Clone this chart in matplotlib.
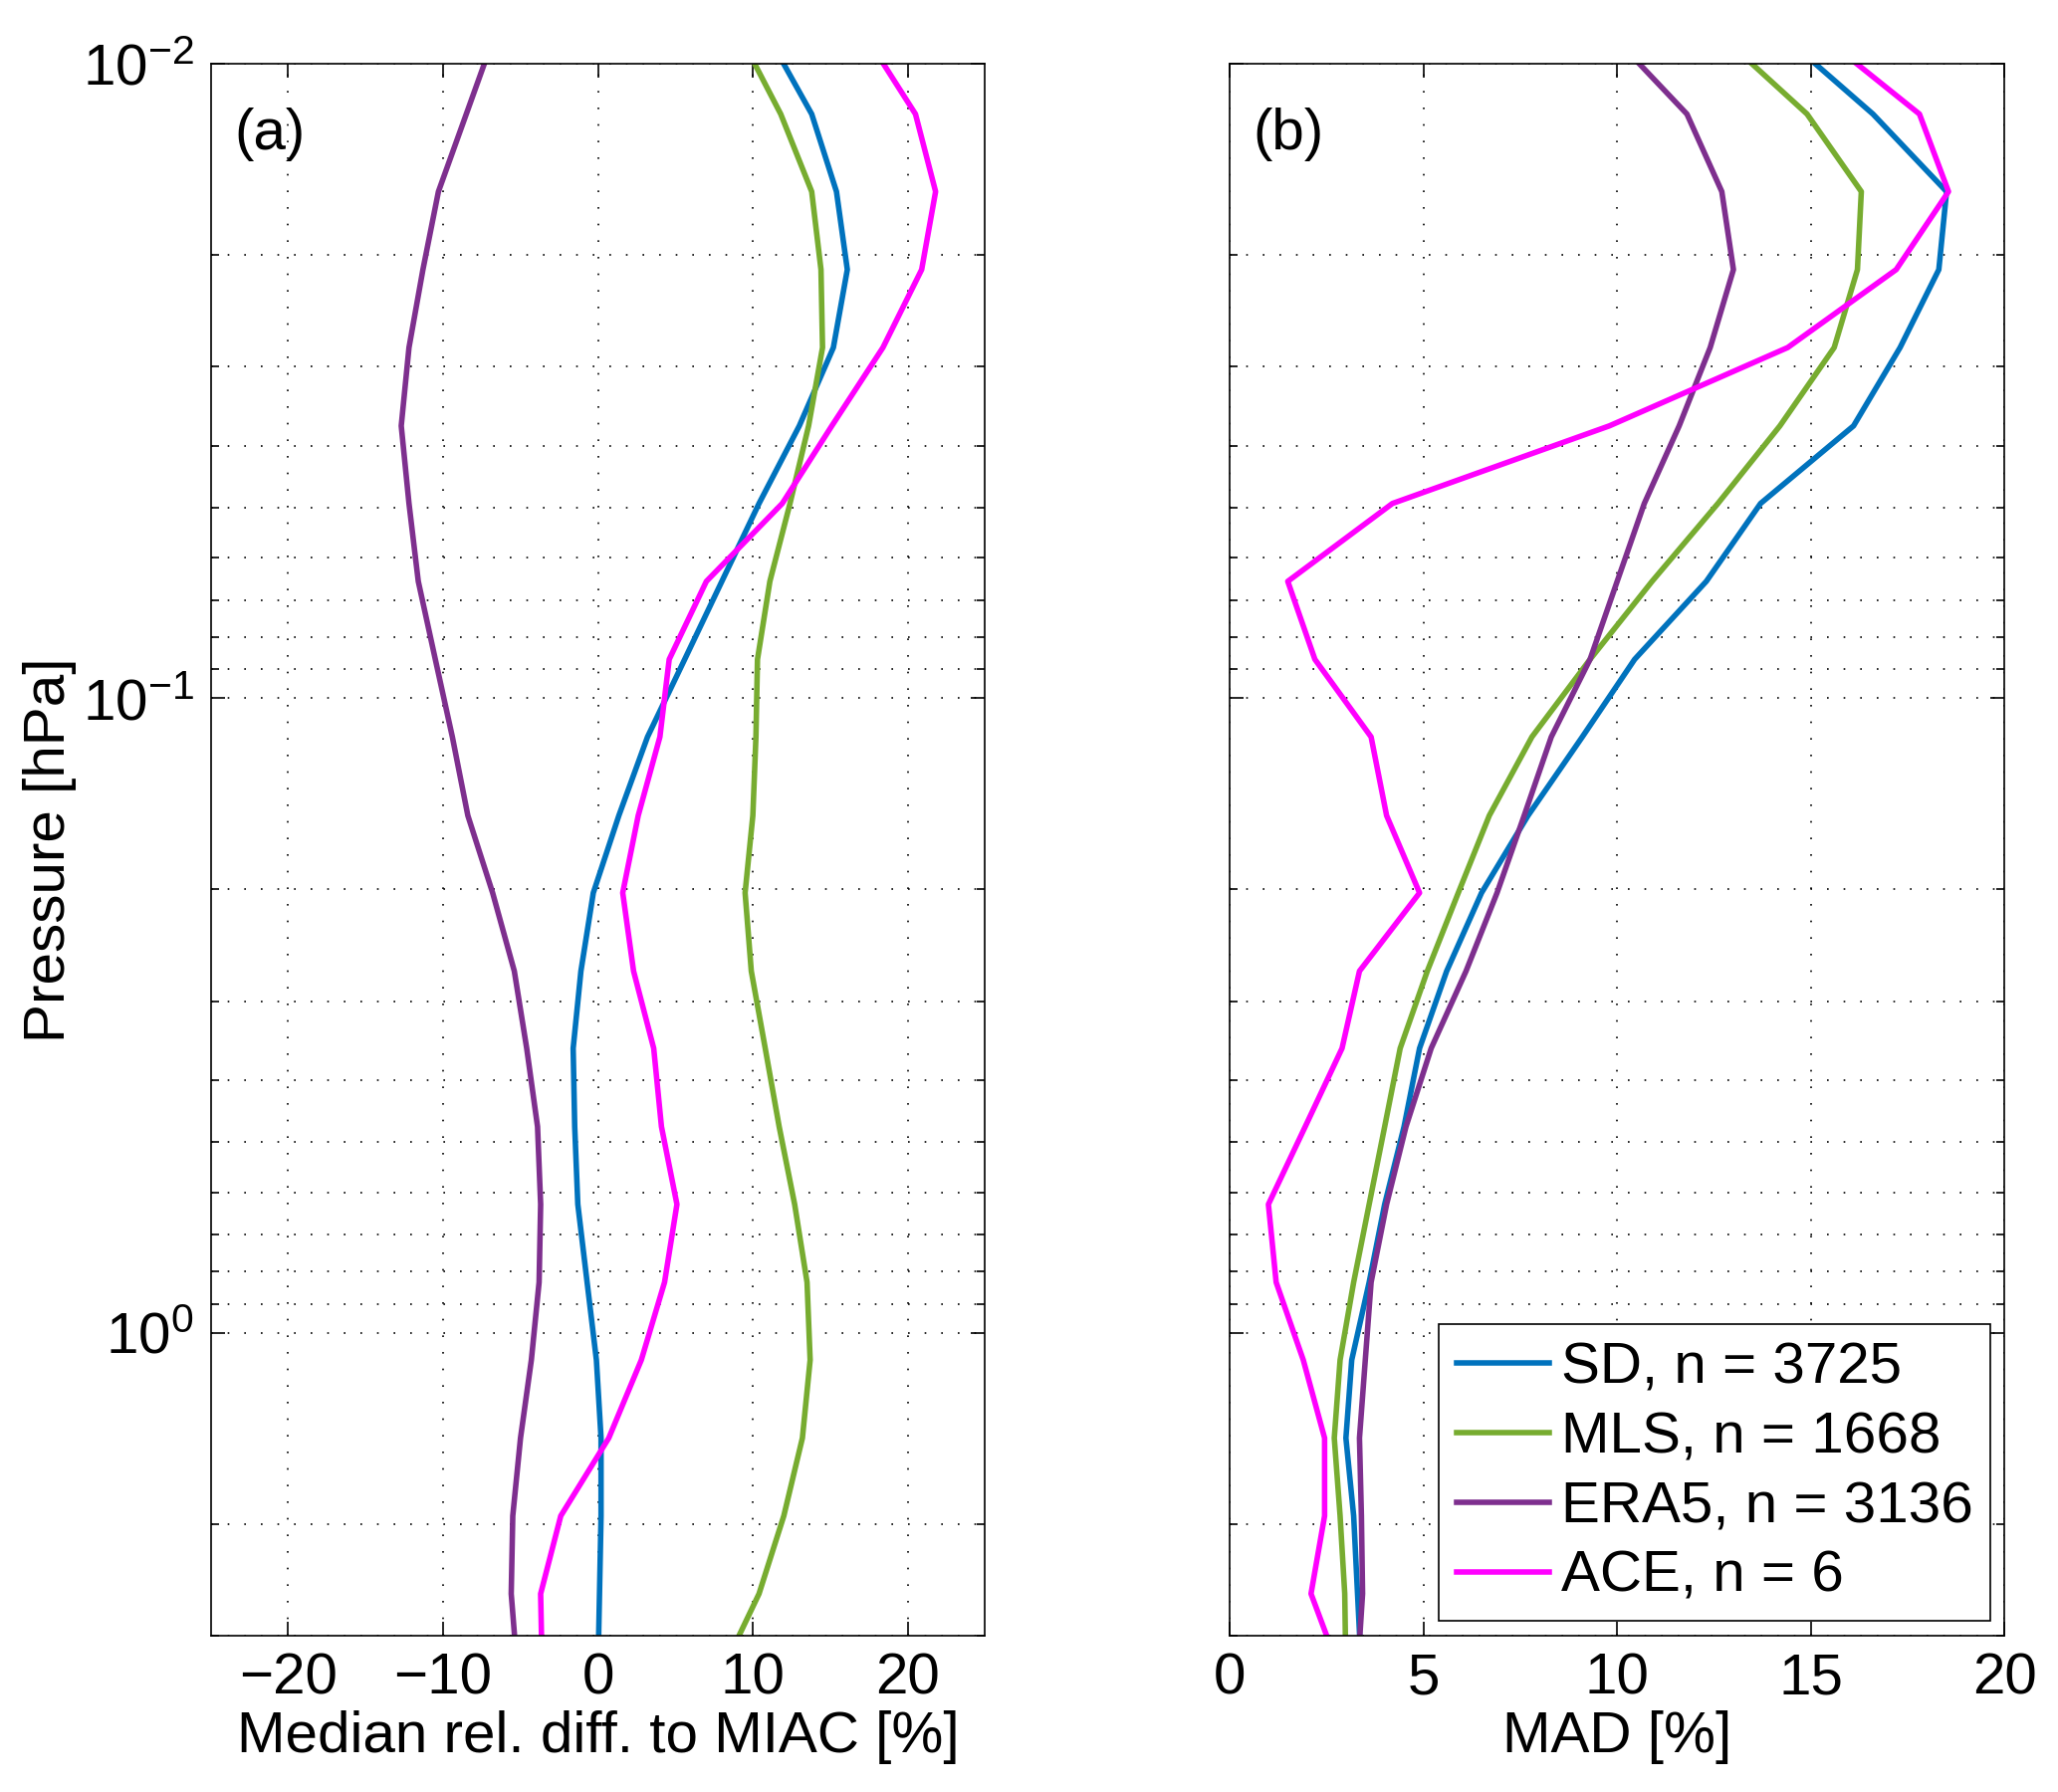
import numpy as np
import matplotlib
matplotlib.use("Agg")
import matplotlib.pyplot as plt
from matplotlib.ticker import LogLocator, LogFormatterMathtext, NullFormatter

plt.rcParams['font.family'] = ['Liberation Sans', 'DejaVu Sans']
plt.rcParams['mathtext.fontset'] = 'custom'
plt.rcParams['mathtext.rm'] = 'Liberation Sans'
plt.rcParams['mathtext.it'] = 'Liberation Sans:italic'
plt.rcParams['mathtext.bf'] = 'Liberation Sans:bold'

# pressure levels of the profiles [hPa]
pressure = [0.00905, 0.0120, 0.0159, 0.0211, 0.0280, 0.0372, 0.0493, 0.0654,
            0.0868, 0.115, 0.153, 0.2025, 0.269, 0.356, 0.473, 0.627,
            0.832, 1.103, 1.464, 1.942, 2.576, 3.417]

# (a) median relative difference to MIAC [%]
diff_sd = [11.0, 13.8, 15.4, 16.1, 15.2, 13.0, 10.4, 8.0, 5.6, 3.2, 1.35,
           -0.3, -1.1, -1.6, -1.5, -1.3, -0.7, -0.1, 0.2, 0.2, 0.1, 0.0]
diff_mls = [9.2, 11.8, 13.8, 14.4, 14.5, 13.6, 12.4, 11.1, 10.3, 10.2, 10.0,
            9.5, 9.9, 10.8, 11.7, 12.7, 13.5, 13.7, 13.2, 12.0, 10.4, 8.0]
diff_era5 = [-6.7, -8.5, -10.3, -11.3, -12.2, -12.7, -12.2, -11.6, -10.5, -9.4, -8.4,
             -6.8, -5.4, -4.6, -3.9, -3.7, -3.8, -4.3, -5.0, -5.5, -5.6, -5.2]
diff_ace = [17.3, 20.5, 21.8, 20.9, 18.4, 15.1, 11.9, 7.0, 4.6, 4.0, 2.6,
            1.6, 2.3, 3.6, 4.1, 5.1, 4.3, 2.8, 0.7, -2.4, -3.7, -3.6]

# (b) MAD [%]
mad_sd = [14.3, 16.6, 18.5, 18.3, 17.3, 16.1, 13.7, 12.3, 10.45, 9.1, 7.7,
          6.5, 5.6, 4.9, 4.5, 4.0, 3.6, 3.15, 3.0, 3.2, 3.3, 3.4]
mad_mls = [12.7, 14.9, 16.3, 16.2, 15.6, 14.2, 12.6, 10.9, 9.3, 7.8, 6.7,
           5.9, 5.1, 4.4, 4.0, 3.6, 3.2, 2.85, 2.7, 2.85, 2.97, 3.0]
mad_era5 = [9.9, 11.8, 12.7, 13.0, 12.4, 11.6, 10.7, 10.0, 9.3, 8.3, 7.6,
            6.9, 6.1, 5.2, 4.55, 4.05, 3.65, 3.5, 3.35, 3.4, 3.43, 3.3]
mad_ace = [15.3, 17.8, 18.55, 17.2, 14.4, 9.8, 4.2, 1.5, 2.2, 3.65, 4.05,
           4.9, 3.35, 2.9, 1.95, 1.0, 1.2, 1.9, 2.45, 2.45, 2.1, 2.85]

labels = ['SD, n = 3725', 'MLS, n = 1668', 'ERA5, n = 3136', 'ACE, n = 6']
colors = ['#0072BD', '#77AC30', '#7E2F8E', '#FF00FF']

FS_TICK = 42
FS = 42
LW = 4.0

fig = plt.figure(figsize=(20.67, 18), dpi=100)
ax_a = fig.add_axes([0.1024, 0.0872, 0.3763, 0.8772])
ax_b = fig.add_axes([0.5975, 0.0872, 0.3766, 0.8772])

grid_kw = dict(color='k', linewidth=1.2, linestyle=(0, (1, 9)))

def style_axes(ax):
    ax.set_yscale('log')
    ax.set_ylim(3, 0.01)
    ax.yaxis.set_major_locator(LogLocator(base=10, numticks=10))
    ax.yaxis.set_minor_locator(LogLocator(base=10, subs=np.arange(2, 10), numticks=10))
    ax.yaxis.set_minor_formatter(NullFormatter())
    ax.tick_params(which='both', direction='in', top=True, right=True,
                   labelsize=FS_TICK, width=1.2, pad=12)
    ax.tick_params(which='major', length=10)
    ax.tick_params(which='minor', length=6)
    ax.grid(True, which='major', axis='x', **grid_kw)
    ax.grid(True, which='both', axis='y', **grid_kw)
    for s in ax.spines.values():
        s.set_linewidth(1.2)

for vals, c, lab in zip([diff_sd, diff_mls, diff_era5, diff_ace], colors, labels):
    ax_a.plot(vals, pressure, color=c, lw=LW, label=lab)
style_axes(ax_a)
ax_a.set_xlim(-25, 25)
ax_a.set_xticks([-20, -10, 0, 10, 20])
ax_a.yaxis.set_major_formatter(LogFormatterMathtext())
ax_a.set_xlabel('Median rel. diff. to MIAC [%]', fontsize=FS, labelpad=3)
ax_a.set_ylabel('Pressure [hPa]', fontsize=FS, labelpad=4)
ax_a.text(0.03, 0.955, '(a)', transform=ax_a.transAxes, fontsize=FS,
          ha='left', va='center')

for vals, c, lab in zip([mad_sd, mad_mls, mad_era5, mad_ace], colors, labels):
    ax_b.plot(vals, pressure, color=c, lw=LW, label=lab)
style_axes(ax_b)
ax_b.set_xlim(0, 20)
ax_b.set_xticks([0, 5, 10, 15, 20])
ax_b.yaxis.set_major_formatter(NullFormatter())
ax_b.set_xlabel('MAD [%]', fontsize=FS, labelpad=3)
ax_b.text(0.03, 0.955, '(b)', transform=ax_b.transAxes, fontsize=FS,
          ha='left', va='center')

leg = ax_b.legend(loc='lower right', fontsize=FS, frameon=True, fancybox=False,
                  edgecolor='k', framealpha=1, borderaxespad=0.25,
                  handlelength=1.6, handletextpad=0.2, labelspacing=0.27,
                  borderpad=0.3)
leg.get_frame().set_linewidth(1.2)
leg.set_zorder(10)

fig.savefig('out.png', dpi=100)
